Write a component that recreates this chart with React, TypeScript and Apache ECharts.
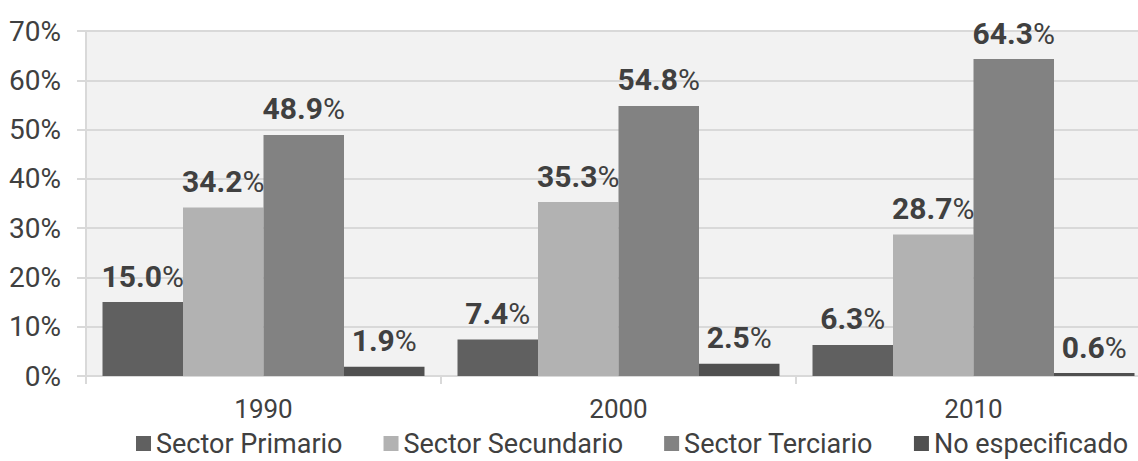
import React, { useEffect, useRef } from "react";
import * as echarts from "echarts";

const categories = ["1990", "2000", "2010"];
const seriesNames = ["Sector Primario", "Sector Secundario", "Sector Terciario", "No especificado"];
const primario = [15.0, 7.4, 6.3];
const secundario = [34.2, 35.3, 28.7];
const terciario = [48.9, 54.8, 64.3];
const noEspecificado = [1.9, 2.5, 0.6];
const yTicks = [0, 10, 20, 30, 40, 50, 60, 70];
const colors = ["#606060", "#b2b2b2", "#828282", "#505050"];

const FONT = "Roboto";
const TEXT = "#404040";

export default function App() {
  const ref = useRef<HTMLDivElement>(null);
  useEffect(() => {
    if (!ref.current) return;
    const chart = echarts.init(ref.current, undefined, { renderer: "svg" });
    const data = [primario, secundario, terciario, noEspecificado];
    chart.setOption({
      animation: false,
      textStyle: { fontFamily: FONT },
      grid: {
        left: 86,
        top: 31,
        right: 0,
        bottom: 85,
        show: true,
        backgroundColor: "#f2f2f2",
        borderWidth: 0,
      },
      legend: {
        data: seriesNames,
        left: 131,
        top: 425,
        icon: "rect",
        itemWidth: 15,
        itemHeight: 15,
        itemGap: 41,
        textStyle: { fontFamily: FONT, fontSize: 27, color: TEXT },
      },
      xAxis: {
        type: "category",
        data: categories,
        axisLine: { show: true, lineStyle: { color: "#d9d9d9", width: 2 } },
        axisTick: { show: true, length: 8, lineStyle: { color: "#d9d9d9", width: 2 } },
        axisLabel: { fontFamily: FONT, fontSize: 26, color: TEXT, margin: 20 },
      },
      yAxis: {
        type: "value",
        min: yTicks[0],
        max: yTicks[yTicks.length - 1],
        interval: 10,
        axisLine: { show: true, lineStyle: { color: "#d9d9d9", width: 2 } },
        axisTick: { show: true, length: 9, lineStyle: { color: "#d9d9d9", width: 2 } },
        splitLine: { show: true, lineStyle: { color: "#d9d9d9", width: 2 } },
        axisLabel: {
          fontFamily: FONT,
          fontSize: 28,
          color: TEXT,
          margin: 25,
          formatter: "{value}%",
          padding: [0, 0, 5, 0],
        },
      },
      series: seriesNames.map((name, i) => ({
        name,
        type: "bar",
        data: data[i],
        barGap: 0,
        barCategoryGap: "9.3%",
        itemStyle: { color: colors[i] },
        label: {
          show: true,
          position: "top",
          distance: 11,
          formatter: (p: any) => `{b|${p.value.toFixed(1)}}{p|%}`,
          rich: {
            b: { fontFamily: FONT, fontSize: 30, fontWeight: "bold", color: TEXT },
            p: { fontFamily: FONT, fontSize: 30, fontWeight: "normal", color: TEXT },
          },
        },
      })),
    });
    return () => chart.dispose();
  }, []);
  return (
    <div
      style={{
        position: "absolute",
        left: 0,
        top: 0,
        width: 1138,
        height: 461,
        overflow: "hidden",
        background: "#fff",
      }}
    >
      <div ref={ref} style={{ width: 1151, height: 461 }} />
    </div>
  );
}
